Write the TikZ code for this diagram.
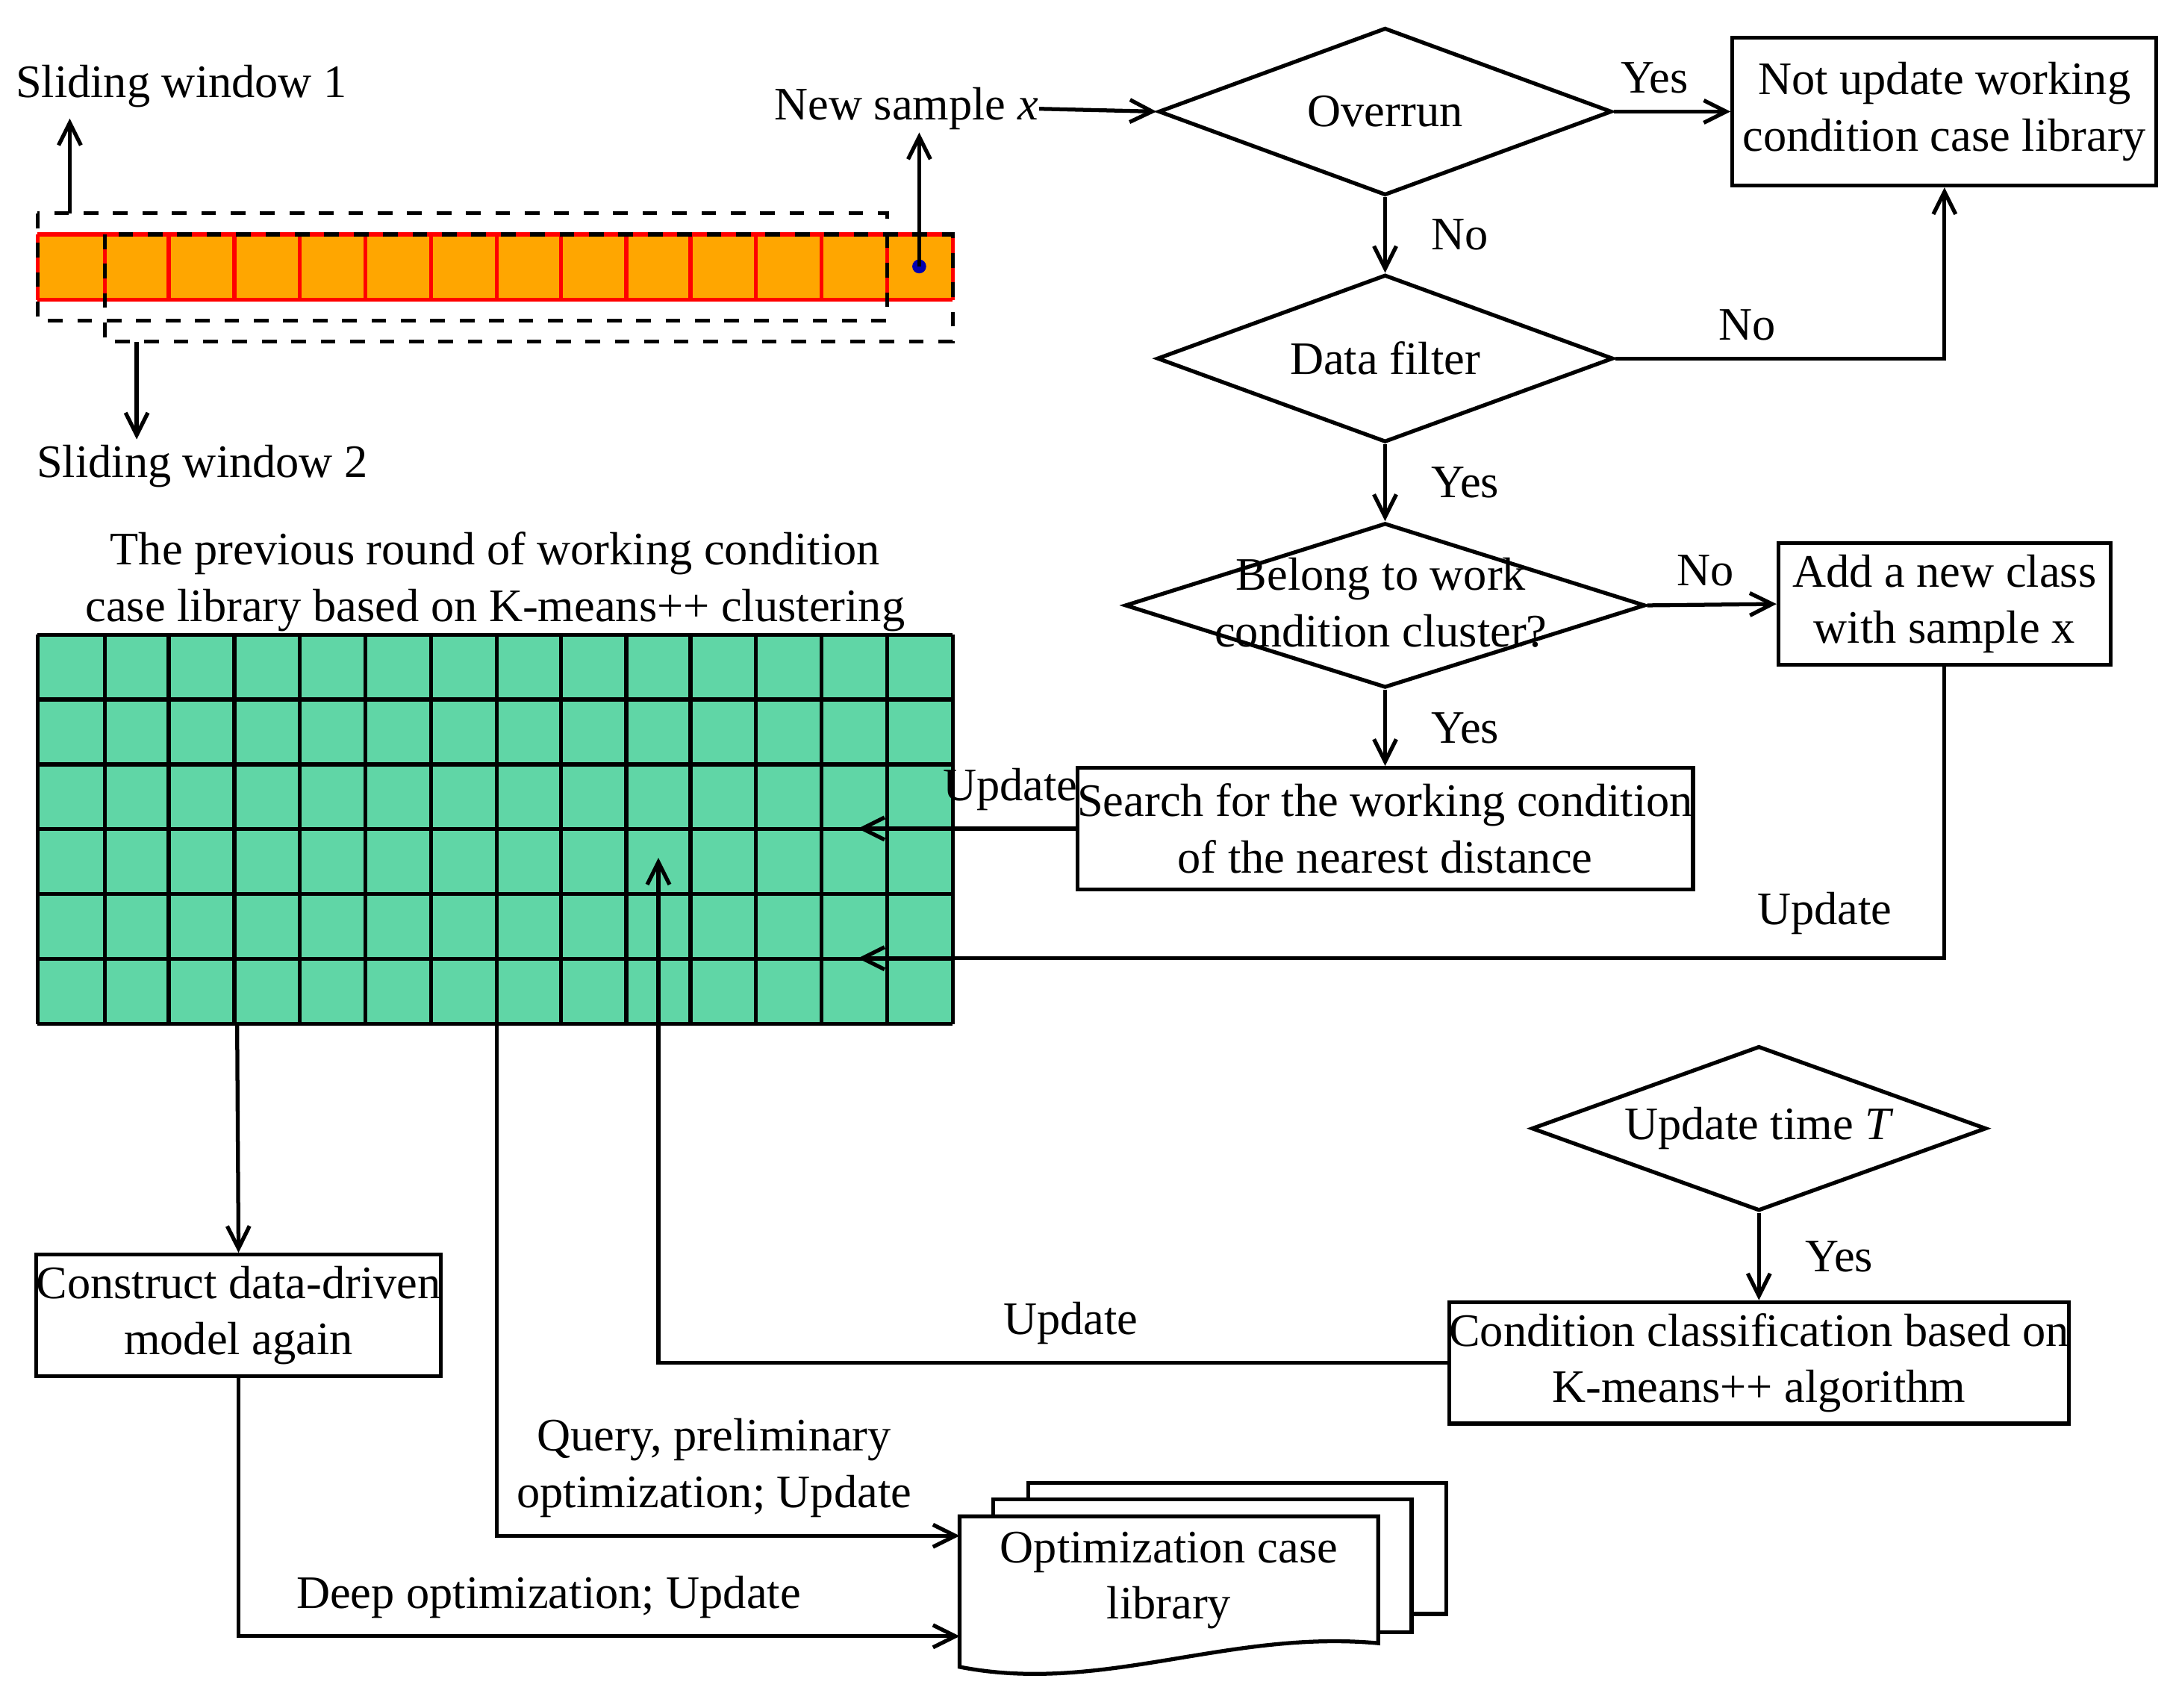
\documentclass[tikz,border=0pt]{standalone}
\usepackage{fontspec}
\setmainfont{Liberation Serif}
\usetikzlibrary{arrows.meta,shapes.geometric}
\begin{document}
\begin{tikzpicture}[x=0.1mm,y=-0.1mm,
  every node/.style={font=\fontsize{9.5}{11.5}\selectfont},
  box/.style={draw,thick,rectangle,align=center,inner sep=0},
  dia/.style={draw,thick,diamond,aspect=2.7,inner sep=0},
  ar/.style={-{Straight Barb[length=1.6mm,width=1.6mm]},thick},
  ln/.style={thick}]
\useasboundingbox (0,0) rectangle (1560,1224);
% strip
\fill[orange!70!yellow] (27,168) rectangle (683,215);
\foreach \x in {27,75,121,168,215,262,309,356,402,449,495,542,589,636,683}
  \draw[red,thick] (\x,168) -- (\x,215);
\draw[red,thick] (27,168) -- (683,168) (27,215) -- (683,215);
\draw[thick,dashed] (27,153) rectangle (636,230);
\draw[thick,dashed] (75,168) rectangle (683,245);
\fill[blue!70!black] (659,191) circle (5);
\coordinate (w1) at (50,153); \coordinate (w1e) at (50,85);
\coordinate (w2) at (98,245); \coordinate (w2e) at (98,315);
\coordinate (dot) at (659,191); \coordinate (dote) at (659,95);
\draw[ar] (w1) -- (w1e);
\draw[ar] (w2) -- (w2e);
\draw[ar] (dot) -- (dote);
\node (sw1) at (130,62) {Sliding window 1};
\node (sw2) at (145,334) {Sliding window 2};
\node[anchor=east,inner sep=0] (ns) at (745,78) {New sample \textit{x}};
% diamonds and boxes
\node[dia,minimum width=325\pgflinewidth,minimum width=32.5mm,minimum height=12mm] (over) at (993,80) {Overrun};
\node[box,minimum width=30.4mm,minimum height=10.6mm] (notup) at (1394,80) {Not update working\\condition case library};
\node[dia,minimum width=32.7mm,minimum height=12mm] (filt) at (993,257) {Data filter};
\node[dia,minimum width=37.3mm,minimum height=11.8mm] (bel) at (993,434) {};
\node (belt) at (990,432) [align=center] {Belong to work\\condition cluster?};
\node[box,minimum width=23.8mm,minimum height=8.7mm] (add) at (1394,433) {Add a new class\\with sample x};
\node[box,minimum width=41mm,minimum height=8.7mm] (srch) at (993,594) {Search for the working condition\\of the nearest distance};
\node[dia,minimum width=32.6mm,minimum height=11.8mm] (upt) at (1261,809) {Update time \textit{T}};
\node[box,minimum width=43.1mm,minimum height=8.7mm] (cls) at (1261,977) {Condition classification based on\\K-means++ algorithm};
\node[box,minimum width=28.8mm,minimum height=8.7mm] (cons) at (171,943) {Construct data-driven\\model again};
% grid
\fill[green!45!teal!60!white] (27,455) rectangle (683,734);
\fill[black!0] (0,0) rectangle (0,0);
\begin{scope}
\fill[cyan!10!green!40!white,fill=white!30!green!60!cyan!60] (27,455) rectangle (683,734);
\end{scope}
\fill[color={rgb,255:red,96;green,214;blue,166}] (27,455) rectangle (683,734);
\foreach \x in {27,75,121,168,215,262,309,356,402,449,495,542,589,636,683}
  \draw[thick] (\x,455) -- (\x,734);
\foreach \y in {455,501.5,548,594.5,641,687.5,734}
  \draw[thick] (27,\y) -- (683,\y);
\node[align=center] (gt) at (355,417) {The previous round of working condition\\case library based on K-means++ clustering};
% document shape
\coordinate (doc) at (688,1101);
\draw[thick,fill=white] (737,1063) -- (1037,1063) -- (1037,1157) -- (1012,1157) -- (1012,1075) -- (737,1075) -- cycle;
\draw[thick,fill=white] (712,1075) -- (1012,1075) -- (1012,1170) -- (988,1170) -- (988,1087) -- (712,1087) -- cycle;
\draw[thick,fill=white] (688,1087) -- (988,1087) -- (988,1178) .. controls (880,1168) and (790,1215) .. (688,1195) -- cycle;
\node[align=center] (opt) at (838,1133) {Optimization case\\library};
\coordinate (d1) at (688,1101); \coordinate (d2) at (688,1173);
% connectors
\draw[ar] (ns.east) -- (over.west);
\draw[ar] (over.east) -- node[above,pos=0.35] {Yes} (notup.west);
\draw[ar] (over.south) -- node[right,xshift=2mm] {No} (filt.north);
\draw[ar] (filt.east) -- node[above,pos=0.4] {No} (filt.east -| notup.south) -- (notup.south);
\draw[ar] (filt.south) -- node[right,xshift=2mm] {Yes} (bel.north);
\draw[ar] (bel.east) -- node[above,pos=0.45] {No} (add.west);
\draw[ar] (bel.south) -- node[right,xshift=2mm] {Yes} (srch.north);
\coordinate (g1) at (615,594); \coordinate (g2) at (615,687); \coordinate (g3) at (472,615);
\draw[ar] (srch.west) -- node[above,pos=0.3] {Update} (g1);
\draw[ar] (add.south) -- (add.south |- g2) node[above left,pos=0.6,xshift=-2mm] {} -- (g2);
\node at (1308,655) {Update};
\draw[ar] (upt.south) -- node[right,xshift=2mm] {Yes} (cls.north);
\draw[ar] (cls.west) -- node[above,pos=0.0,xshift=-27mm] {Update} (cls.west -| g3) -- (g3);
\coordinate (ga) at (170,734); \coordinate (gb) at (356,734);
\draw[ar] (ga) -- (cons.north);
\draw[ar] (cons.south) -- (cons.south |- d2) -- node[above,pos=0.43] {Deep optimization; Update} (d2);
\draw[ar] (gb) -- (gb |- d1) -- node[above,pos=0.47,align=center] {Query, preliminary\\optimization; Update} (d1);
\end{tikzpicture}
\end{document}
